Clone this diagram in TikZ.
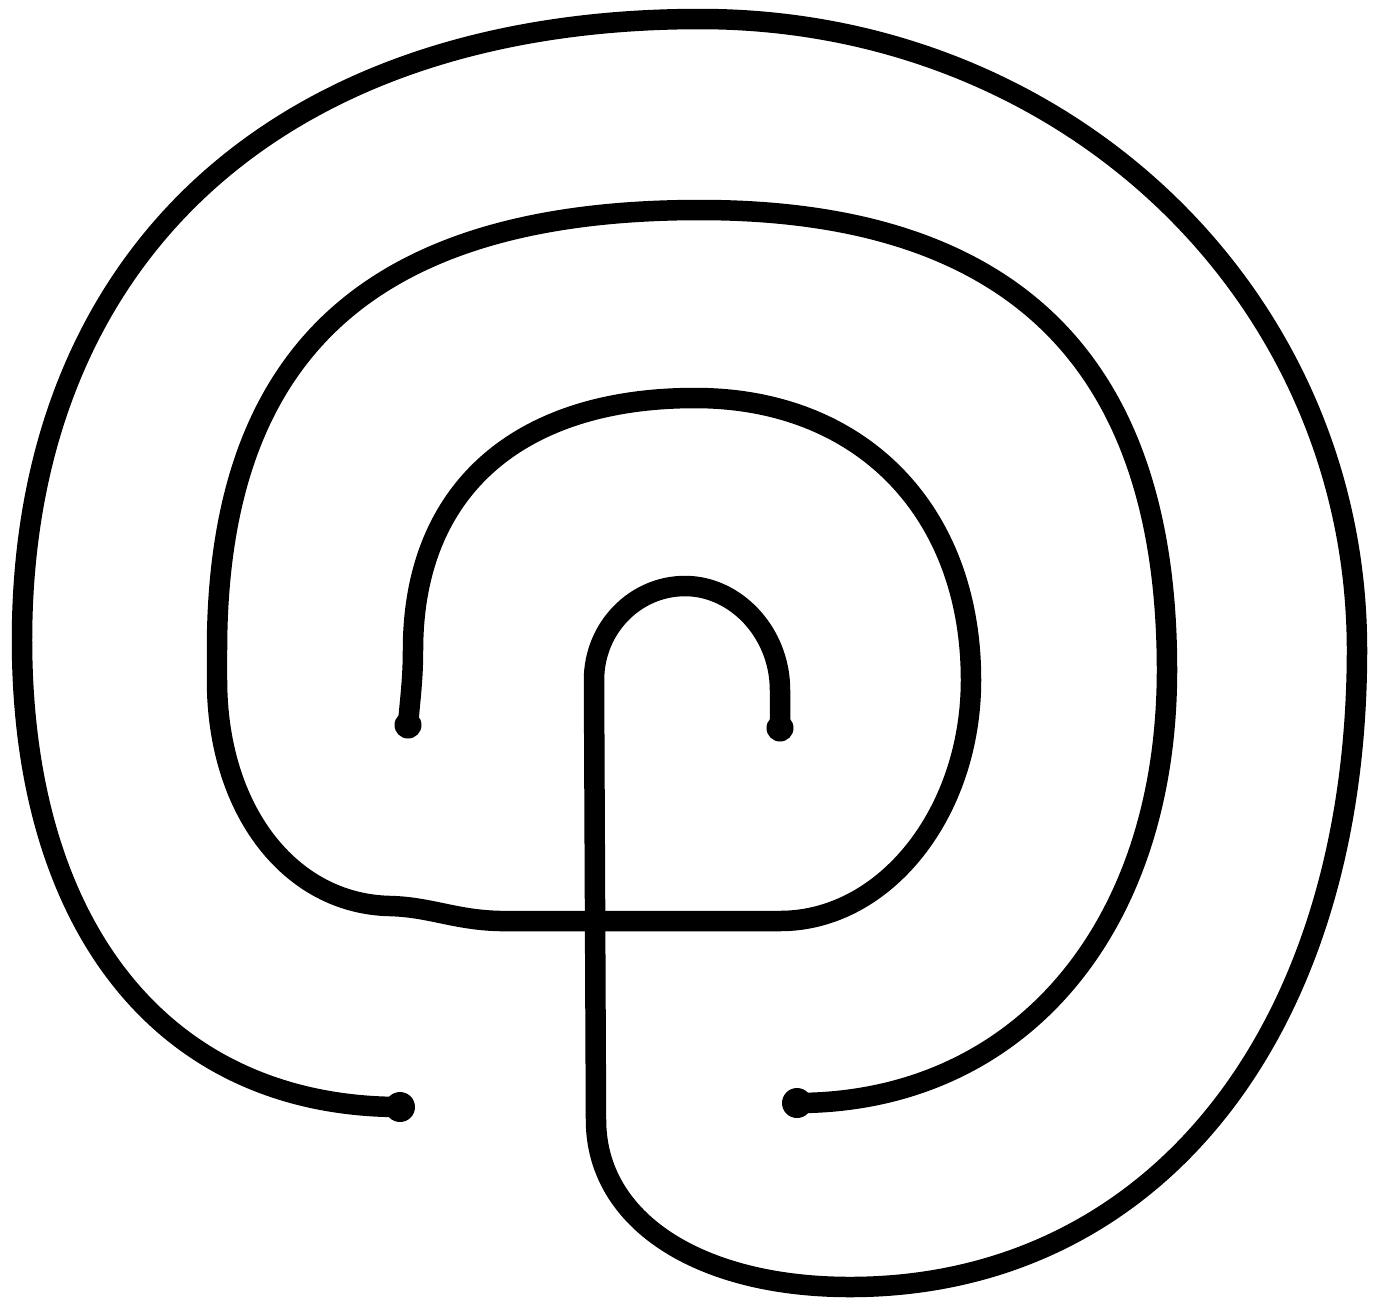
\documentclass[tikz,border=0pt]{standalone}
\begin{document}
\begin{tikzpicture}[x=0.02cm,y=-0.02cm,
  wall/.style={line width=0.41cm, line cap=round, line join=round, black},
  enddot/.style={black}]
\useasboundingbox[fill=white] (0,0) rectangle (1377,1303);
% free ends
\coordinate (a1) at (400,1107);
\coordinate (a2) at (780,728);
\coordinate (b1) at (797,1103);
\coordinate (b2) at (408,725);
% outer path, ending in the small arch
\draw[wall] (a1)
  .. controls (166,1107) and (22,930) .. (22,640)
  .. controls (22,255) and (280,19) .. (700,19)
  .. controls (1068,19) and (1357,297) .. (1357,650)
  .. controls (1357,1032) and (1154,1287) .. (850,1287)
  .. controls (698,1287) and (596,1220) .. (596,1120)
  -- (594,680)
  .. controls (594,628) and (635,586) .. (685,586)
  .. controls (736,586) and (780,633) .. (780,690)
  -- (a2);
% inner path
\draw[wall] (b1)
  .. controls (1018,1103) and (1167,930) .. (1167,670)
  .. controls (1167,362) and (1013,210) .. (700,210)
  .. controls (372,210) and (217,351) .. (217,650)
  -- (217,680)
  .. controls (217,810) and (290,904) .. (390,906)
  .. controls (430,907) and (455,920) .. (500,921)
  -- (780,921)
  .. controls (885,921) and (971,813) .. (971,680)
  .. controls (971,511) and (861,398) .. (695,398)
  .. controls (517,398) and (413,491) .. (413,650)
  .. controls (413,680) and (410,700) .. (b2);
% dots at the free ends
\fill[enddot] (a1) circle[radius=0.3cm];
\fill[enddot] (a2) circle[radius=0.27cm];
\fill[enddot] (b1) circle[radius=0.3cm];
\fill[enddot] (b2) circle[radius=0.27cm];
\end{tikzpicture}
\end{document}
